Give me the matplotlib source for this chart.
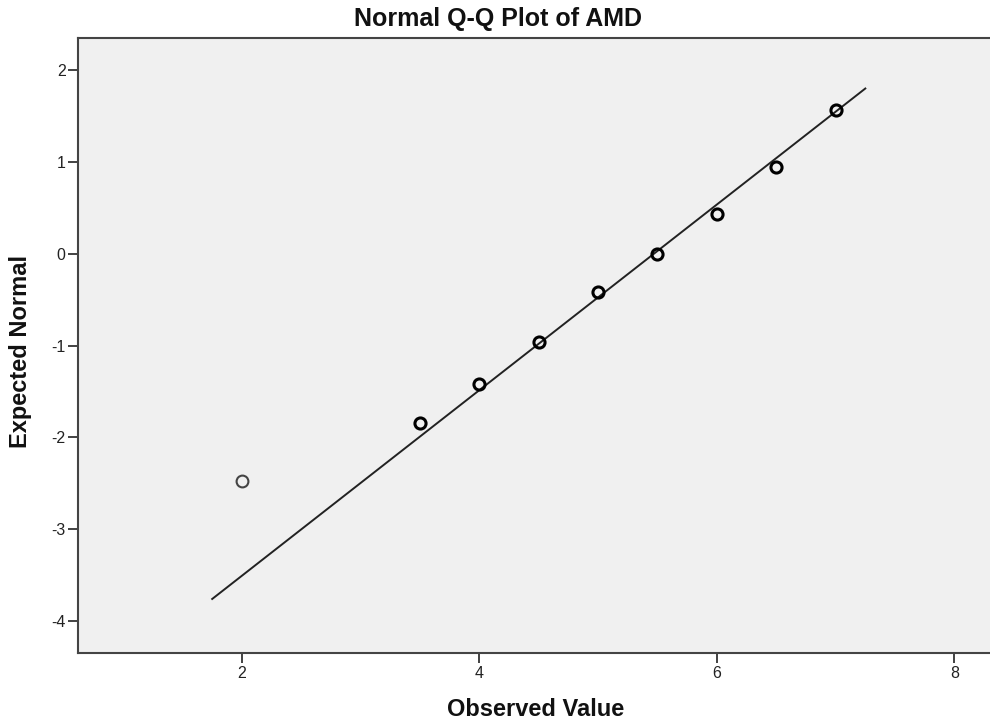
import numpy as np
import matplotlib.pyplot as plt

plt.rcParams['font.family'] = ['Liberation Sans', 'DejaVu Sans']
plt.rcParams['axes.unicode_minus'] = False

# observed values and their expected normal scores
observed = [2.0, 3.5, 4.0, 4.5, 5.0, 5.5, 6.0, 6.5, 7.0]
expected = [-2.48, -1.84, -1.42, -0.96, -0.42, 0.0, 0.43, 0.95, 1.57]
# points with tied observations are drawn heavier
ties = [1, 2, 2, 2, 2, 2, 2, 2, 2]

# reference line from sample mean / sd
mean_val = 5.47
sd_val = 0.989
line_x = np.array([1.75, 7.25])

fig = plt.figure(figsize=(9.9, 7.27), dpi=100)
ax = fig.add_axes([78 / 990, 1 - 653 / 727, 1 - 78 / 990, (653 - 38) / 727])
ax.set_facecolor('#f0f0f0')

ax.plot(line_x, (line_x - mean_val) / sd_val, color='#222222', lw=1.4, zorder=2)

for x, y, t in zip(observed, expected, ties):
    if t > 1:
        ax.plot(x, y, 'o', ms=8, mfc='none', mec='black', mew=2.2, zorder=3)
    else:
        ax.plot(x, y, 'o', ms=8.5, mfc='none', mec='#444444', mew=1.5, zorder=3)

ax.set_xlim(0.62, 8.3)
ax.set_ylim(-4.35, 2.35)
ax.set_xticks([2, 4, 6, 8])
ax.set_yticks([-4, -3, -2, -1, 0, 1, 2])
ax.tick_params(direction='out', length=7, width=1.3, color='#333333',
               labelsize=11.5, labelcolor='#222222', pad=2)
for side in ['left', 'bottom', 'top']:
    ax.spines[side].set_color('#444444')
    ax.spines[side].set_linewidth(1.5)
ax.spines['right'].set_visible(False)

fig.text(498 / 990, 1 - 19 / 727, 'Normal Q-Q Plot of AMD', ha='center', va='center',
         fontsize=18, fontweight='bold', color='#111111')
fig.text(536 / 990, 1 - 709 / 727, 'Observed Value', ha='center', va='center',
         fontsize=17, fontweight='bold', color='#111111')
fig.text(21 / 990, 1 - 351 / 727, 'Expected Normal', ha='center', va='center',
         rotation=90, fontsize=17, fontweight='bold', color='#111111')

fig.savefig('out.png', dpi=100)
